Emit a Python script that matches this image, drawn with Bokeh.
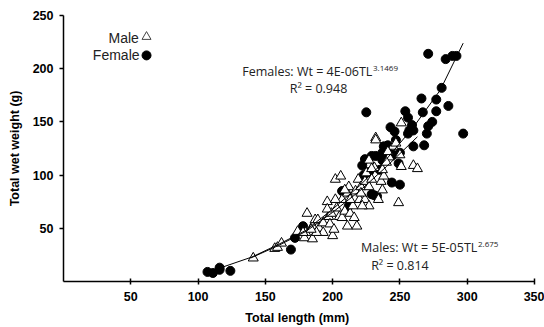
from bokeh.plotting import figure
from bokeh.models import Range1d, FixedTicker, Label, ColumnDataSource
from bokeh.embed import file_html
from bokeh.resources import INLINE

# Female data (Total length mm, total wet weight g)
female_tl = [107, 111, 116, 116, 124, 169, 172, 178, 207, 212, 222, 225, 224, 229, 232,
             231, 235, 237, 240, 241, 243, 244, 246, 247, 249, 250, 250, 254, 256, 257,
             260, 260, 266, 267, 268, 270, 271, 271, 274, 277, 277, 281, 284, 286, 289,
             292, 297, 227, 229, 233, 242, 245, 237, 223, 259, 256, 238]
female_wt = [9, 8, 13, 11, 10, 30, 41, 52, 85, 71, 109, 159, 115, 118, 118,
             81, 105, 121, 122, 128, 145, 93, 141, 133, 111, 121, 91, 160, 154, 142,
             142, 127, 172, 159, 128, 139, 214, 146, 150, 171, 160, 182, 209, 165, 212,
             212, 139, 103, 82, 80, 120, 119, 114, 100, 147, 139, 127]

# Male data
male_tl = [141, 157, 159, 162, 174, 179, 181, 180, 185, 185, 187, 189, 190, 193, 196,
           197, 198, 200, 201, 202, 206, 203, 205, 207, 207, 209, 211, 212, 213, 215,
           216, 217, 219, 220, 221, 224, 224, 225, 227, 229, 231, 232, 232, 234, 236,
           237, 238, 242, 245, 247, 249, 250, 251, 251, 260, 263, 237, 227, 229, 221,
           213, 209, 202, 199, 193, 188, 184, 178, 211, 218, 196, 240, 241, 227, 222]
male_wt = [22, 31, 32, 36, 47, 41, 64, 46, 40, 52, 58, 58, 50, 55, 75,
           61, 54, 43, 49, 96, 99, 69, 61, 60, 77, 66, 83, 89, 64, 71,
           60, 85, 96, 77, 89, 77, 94, 102, 89, 96, 107, 135, 133, 77, 94,
           86, 99, 117, 127, 130, 74, 119, 108, 149, 109, 106, 105, 114, 106, 83,
           77, 86, 77, 64, 46, 46, 49, 46, 52, 52, 68, 112, 122, 71, 71]

# Fitted curves
fem_fit_tl = [117, 140, 160, 180, 200, 220, 240, 260, 280, 297]
fem_fit_wt = [13, 23, 35, 48, 68, 90, 115, 145, 180, 224]
male_fit_tl = [139, 160, 180, 200, 220, 240, 263]
male_fit_wt = [22, 34, 47, 65, 85, 108, 136]

x_ticks = [50, 100, 150, 200, 250, 300, 350]
y_ticks = [50, 100, 150, 200, 250]

p = figure(width=544, height=327, output_backend="svg", toolbar_location=None,
           x_range=Range1d(0, 350), y_range=Range1d(0, 250),
           min_border_left=63, min_border_right=10, min_border_top=15, min_border_bottom=44)
p.outline_line_color = None
p.xgrid.visible = False
p.ygrid.visible = False
p.background_fill_color = "white"
p.border_fill_color = "white"

for ax in (p.xaxis[0], p.yaxis[0]):
    ax.axis_line_color = "black"
    ax.axis_line_width = 1.5
    ax.major_tick_line_color = "black"
    ax.major_tick_line_width = 1.5
    ax.minor_tick_line_color = None
    ax.major_label_text_font = "Liberation Sans"
    ax.major_label_text_font_style = "bold"
    ax.major_label_text_font_size = "12.5px"
    ax.major_label_text_color = "black"
    ax.axis_label_text_font = "Liberation Sans"
    ax.axis_label_text_font_style = "bold"
    ax.axis_label_text_font_size = "12.5px"
    ax.axis_label_text_color = "black"

p.xaxis.ticker = FixedTicker(ticks=x_ticks)
p.yaxis.ticker = FixedTicker(ticks=y_ticks)
p.xaxis.major_tick_in = 3
p.xaxis.major_tick_out = 3
p.yaxis.major_tick_in = 0
p.yaxis.major_tick_out = 4
p.xaxis.major_label_standoff = 7
p.yaxis.major_label_standoff = 6
p.xaxis.axis_label = "Total length  (mm)"
p.yaxis.axis_label = "Total wet weight (g)"
p.xaxis.axis_label_standoff = 7
p.yaxis.axis_label_standoff = 8

fsrc = ColumnDataSource(dict(x=female_tl, y=female_wt))
msrc = ColumnDataSource(dict(x=male_tl, y=male_wt))
p.scatter("x", "y", source=fsrc, marker="circle", size=9, fill_color="black", line_color="black")
p.scatter("x", "y", source=msrc, marker="triangle", size=10, fill_color="white",
          line_color="black", line_width=1)
p.line(fem_fit_tl, fem_fit_wt, line_color="black", line_width=1)
p.line(male_fit_tl, male_fit_wt, line_color="black", line_width=1)

# Legend (label left of marker)
p.add_layout(Label(x=56, y=228.5, text="Male", text_align="right", text_baseline="middle",
                   text_font="Liberation Sans", text_font_size="14px", text_color="#222222"))
p.add_layout(Label(x=56.5, y=212.5, text="Female", text_align="right", text_baseline="middle",
                   text_font="Liberation Sans", text_font_size="14px", text_color="#222222"))
p.scatter([61.7], [230], marker="triangle", size=9, fill_color="white", line_color="#444444")
p.scatter([61.7], [212.5], marker="circle", size=9, fill_color="black", line_color="black")

# Annotations
afont = "Open Sans"
p.add_layout(Label(x=229.5, y=197.5, text="Females: Wt = 4E-06TL", text_align="right",
                   text_baseline="middle", text_font=afont, text_font_size="12.5px", text_color="#222222"))
p.add_layout(Label(x=230, y=200.5, text="3.1469", text_align="left",
                   text_baseline="middle", text_font=afont, text_font_size="8px", text_color="#222222"))
p.add_layout(Label(x=189.5, y=181.5, text="R² = 0.948", text_align="center",
                   text_baseline="middle", text_font=afont, text_font_size="12.5px", text_color="#222222"))
p.add_layout(Label(x=307.5, y=31.5, text="Males: Wt = 5E-05TL", text_align="right",
                   text_baseline="middle", text_font=afont, text_font_size="12.5px", text_color="#222222"))
p.add_layout(Label(x=308, y=34.5, text="2.675", text_align="left",
                   text_baseline="middle", text_font=afont, text_font_size="8px", text_color="#222222"))
p.add_layout(Label(x=250, y=15.5, text="R² = 0.814", text_align="center",
                   text_baseline="middle", text_font=afont, text_font_size="12.5px", text_color="#222222"))

open("out.html", "w").write(file_html(p, INLINE))
